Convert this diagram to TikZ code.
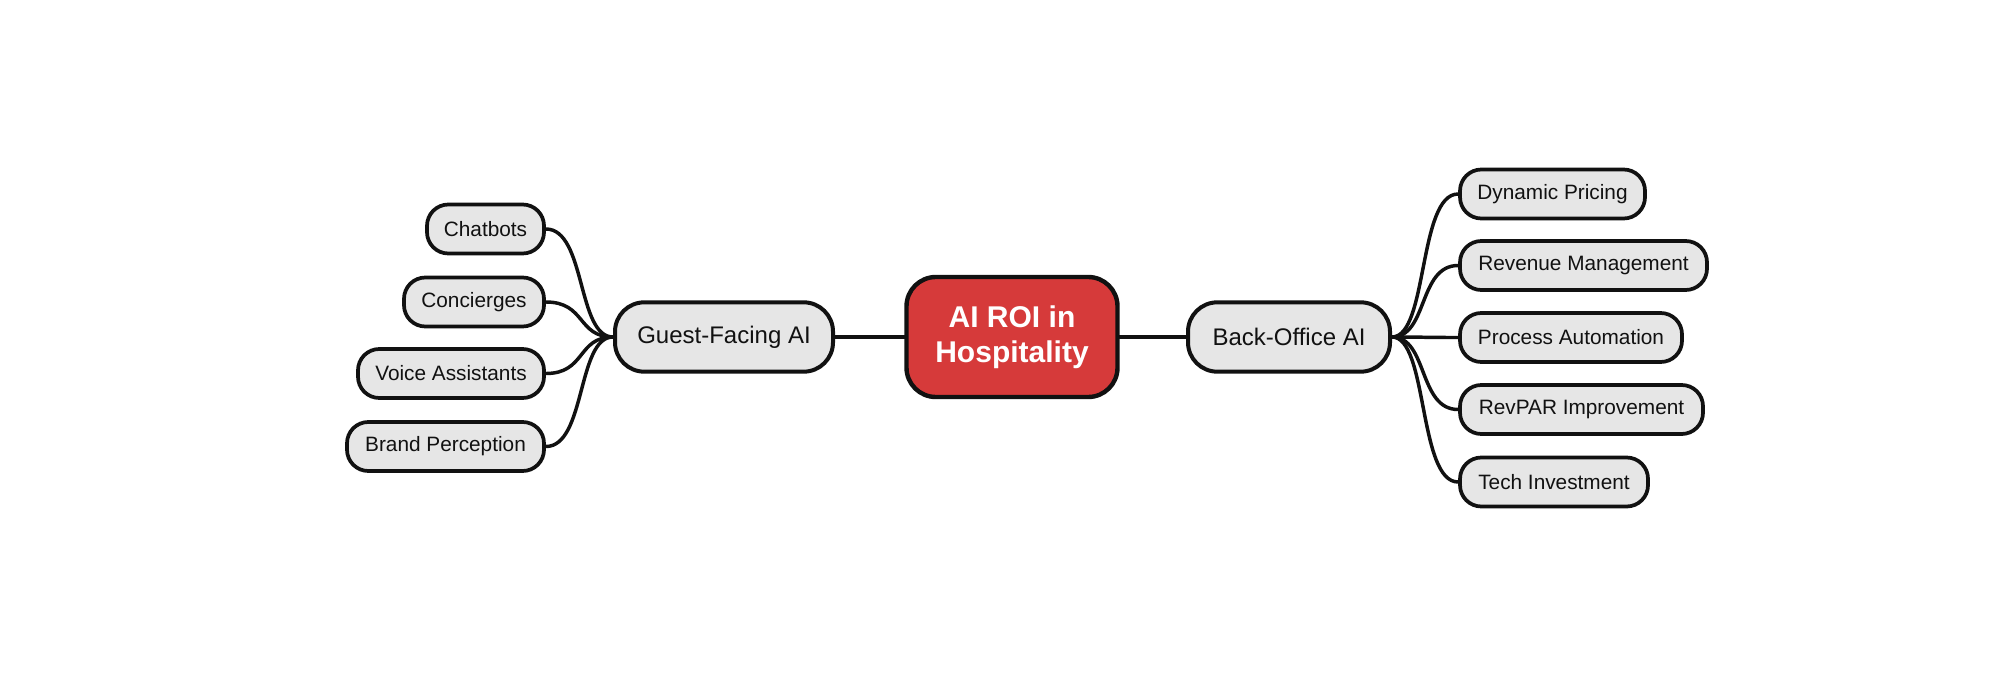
\documentclass[tikz,border=0pt]{standalone}
\usepackage{fontspec}
\setmainfont{Liberation Sans}
\definecolor{leaf}{HTML}{E6E6E6}
\definecolor{rootred}{HTML}{D63A3A}
\definecolor{ink}{HTML}{111111}
\begin{document}
\begin{tikzpicture}[x=0.75pt,y=-0.75pt,
  base/.style={draw=ink,fill=leaf,text=ink,inner sep=0pt,align=center},
  leafbox/.style={base,line width=2.8pt,rounded corners=16pt,minimum height=36.75pt,font=\fontsize{15.6}{18}\selectfont},
  branchbox/.style={base,line width=3pt,rounded corners=22pt,minimum height=52pt,font=\fontsize{18}{21}\selectfont},
  rootbox/.style={draw=ink,fill=rootred,text=white,line width=3.3pt,rounded corners=22pt,minimum width=158.25pt,minimum height=90pt,inner sep=0pt,align=center,font=\bfseries\fontsize{22.5}{26.25}\selectfont},
  link/.style={draw=ink,line width=2.6pt,line cap=round}
]
\useasboundingbox (0,0) rectangle (2004,674);
\node[rootbox] (root) at (1012,337) {AI ROI in\\Hospitality};
\node[branchbox,minimum width=163.5pt] (guest) at (724,337) {Guest-Facing AI};
\node[branchbox,minimum width=151.5pt] (back) at (1289,337) {Back-Office AI};

\node[leafbox,minimum width=87.75pt] (chat) at (485.5,229) {Chatbots};
\node[leafbox,minimum width=105pt] (conc) at (474,302) {Concierges};
\node[leafbox,minimum width=139.5pt] (voice) at (451,373.5) {Voice Assistants};
\node[leafbox,minimum width=147.75pt] (brand) at (445.5,446.5) {Brand Perception};

\node[leafbox,minimum width=138.75pt] (dyn) at (1552.5,194) {Dynamic Pricing};
\node[leafbox,minimum width=185.25pt] (rev) at (1583.5,265.5) {Revenue Management};
\node[leafbox,minimum width=166.5pt] (proc) at (1571,337.5) {Process Automation};
\node[leafbox,minimum width=182.25pt] (revpar) at (1581.5,409.5) {RevPAR Improvement};
\node[leafbox,minimum width=141pt] (tech) at (1554,482) {Tech Investment};

\draw[link] (guest.east) -- (root.west);
\draw[link] (root.east) -- (back.west);

\foreach \n in {chat,conc,voice,brand}
  \draw[link] (\n.east) .. controls +(40,0) and +(-36,0) .. (guest.west);
\foreach \n in {dyn,rev,proc,revpar,tech}
  \draw[link] (back.east) .. controls +(36,0) and +(-40,0) .. (\n.west);
\end{tikzpicture}
\end{document}
